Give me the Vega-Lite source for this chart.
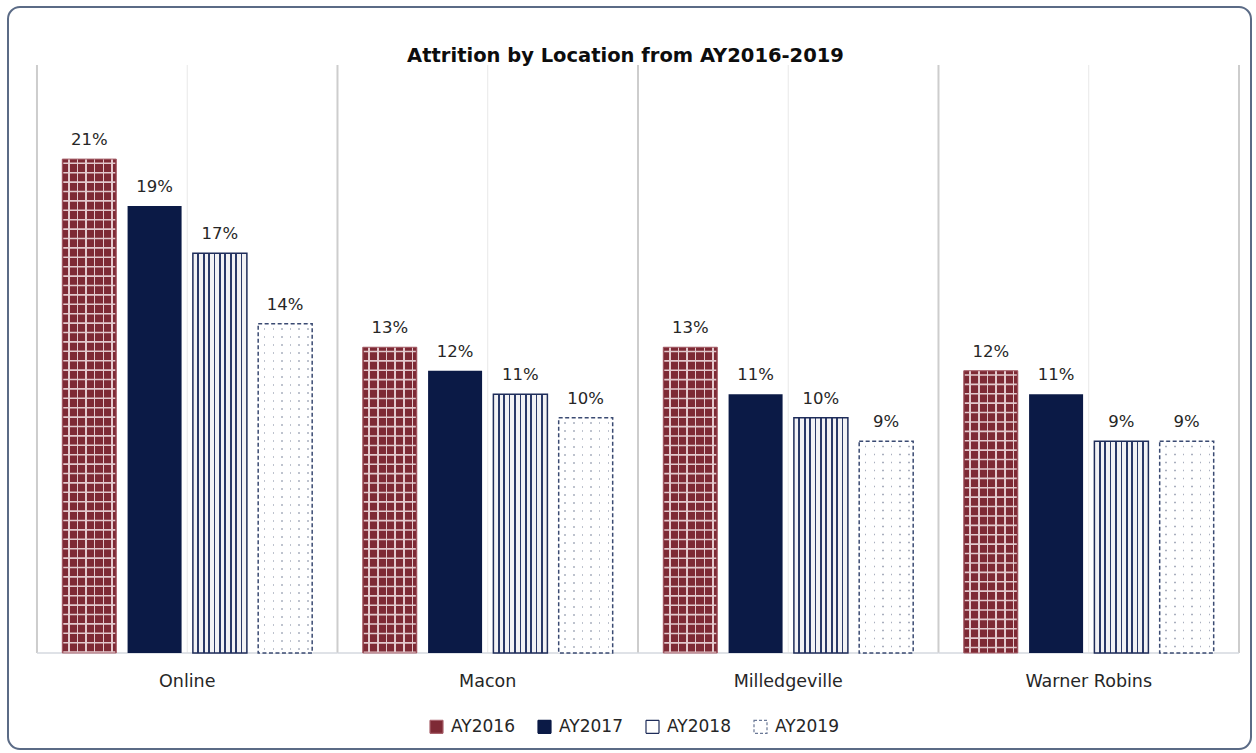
{
  "$schema": "https://vega.github.io/schema/vega-lite/v6.json",
  "width": 1243,
  "height": 742,
  "autosize": {"type": "none"},
  "padding": {"left": 8, "top": 7, "right": 5, "bottom": 4},
  "background": "white",
  "config": {
    "view": {"stroke": "#5B6B86", "strokeWidth": 2, "cornerRadius": 12, "fill": "white"},
    "font": "DejaVu Sans"
  },
  "title": {
    "text": "Attrition by Location from AY2016-2019",
    "font": "DejaVu Sans",
    "fontSize": 19.5,
    "fontWeight": "bold",
    "color": "#0D0D0D",
    "anchor": "middle",
    "baseline": "alphabetic",
    "offset": -74,
    "dx": -4
  },
  "datasets": {
    "rates": [
      {"location": "Online", "year": "AY2016", "value": 0.21},
      {"location": "Online", "year": "AY2017", "value": 0.19},
      {"location": "Online", "year": "AY2018", "value": 0.17},
      {"location": "Online", "year": "AY2019", "value": 0.14},
      {"location": "Macon", "year": "AY2016", "value": 0.13},
      {"location": "Macon", "year": "AY2017", "value": 0.12},
      {"location": "Macon", "year": "AY2018", "value": 0.11},
      {"location": "Macon", "year": "AY2019", "value": 0.10},
      {"location": "Milledgeville", "year": "AY2016", "value": 0.13},
      {"location": "Milledgeville", "year": "AY2017", "value": 0.11},
      {"location": "Milledgeville", "year": "AY2018", "value": 0.10},
      {"location": "Milledgeville", "year": "AY2019", "value": 0.09},
      {"location": "Warner Robins", "year": "AY2016", "value": 0.12},
      {"location": "Warner Robins", "year": "AY2017", "value": 0.11},
      {"location": "Warner Robins", "year": "AY2018", "value": 0.09},
      {"location": "Warner Robins", "year": "AY2019", "value": 0.09}
    ],
    "locs": [
      {"location": "Online"},
      {"location": "Macon"},
      {"location": "Milledgeville"},
      {"location": "Warner Robins"}
    ]
  },
  "data": {"name": "rates"},
  "encoding": {
    "x": {
      "field": "location",
      "type": "nominal",
      "sort": ["Online", "Macon", "Milledgeville", "Warner Robins"],
      "scale": {"domain": ["Online", "Macon", "Milledgeville", "Warner Robins"], "paddingInner": 0, "paddingOuter": 0.0682, "align": 0.707},
      "axis": {
        "orient": "bottom",
        "offset": -96,
        "domain": false,
        "ticks": false,
        "tickSize": 0,
        "grid": false,
        "title": null,
        "labelAngle": 0,
        "labelPadding": 19,
        "labelFont": "DejaVu Sans",
        "labelFontSize": 17.5,
        "labelColor": "#262626"
      }
    }
  },
  "layer": [
    {
      "data": {"name": "locs"},
      "mark": {"type": "rule", "color": "#CDCDCD", "strokeWidth": 2},
      "encoding": {
        "x": {"field": "location", "type": "nominal", "bandPosition": 0},
        "y": {"datum": 0, "type": "quantitative", "scale": {"domain": [-0.04082, 0.27466], "nice": false, "zero": false}, "axis": null},
        "y2": {"datum": 0.25}
      }
    },
    {
      "data": {"name": "locs"},
      "transform": [{"filter": "datum.location === 'Warner Robins'"}],
      "mark": {"type": "rule", "color": "#CDCDCD", "strokeWidth": 2},
      "encoding": {
        "x": {"field": "location", "type": "nominal", "bandPosition": 1},
        "y": {"datum": 0, "type": "quantitative", "scale": {"domain": [-0.04082, 0.27466], "nice": false, "zero": false}, "axis": null},
        "y2": {"datum": 0.25}
      }
    },
    {
      "data": {"name": "locs"},
      "mark": {"type": "rule", "color": "#E8E8E8", "strokeWidth": 1},
      "encoding": {
        "x": {"field": "location", "type": "nominal", "bandPosition": 0.5},
        "y": {"datum": 0, "type": "quantitative", "scale": {"domain": [-0.04082, 0.27466], "nice": false, "zero": false}, "axis": null},
        "y2": {"datum": 0.25}
      }
    },
    {
      "data": {"name": "locs"},
      "mark": {"type": "bar", "fillOpacity": 0, "stroke": "#D5D9E0", "strokeWidth": 1.5},
      "encoding": {
        "y": {"datum": 0, "type": "quantitative", "scale": {"domain": [-0.04082, 0.27466], "nice": false, "zero": false}, "axis": null},
        "y2": {"datum": 0}
      }
    },
    {
      "mark": {"type": "bar"},
      "encoding": {
        "xOffset": {"field": "year", "type": "nominal", "scale": {"domain": ["AY2016", "AY2017", "AY2018", "AY2019"], "paddingInner": 0.173, "paddingOuter": 0.3875}},
        "y": {"field": "value", "type": "quantitative", "scale": {"domain": [-0.04082, 0.27466], "nice": false, "zero": false}, "axis": null},
        "y2": {"datum": 0},
        "color": {
          "field": "year",
          "type": "nominal",
          "scale": {"domain": ["AY2016", "AY2017", "AY2018", "AY2019"], "range": ["#7E2A35", "#0B1A46", "#FFFFFF", "#FFFFFF"]},
          "legend": {
            "orient": "none",
            "legendX": 420,
            "legendY": 711,
            "direction": "horizontal",
            "title": null,
            "symbolType": "square",
            "symbolSize": 169,
            "symbolStrokeWidth": 1.2,
            "labelFont": "DejaVu Sans",
            "labelFontSize": 17,
            "labelColor": "#262626",
            "labelOffset": 6,
            "columnPadding": 20,
            "encode": {
              "symbols": {
                "update": {
                  "stroke": [
                    {"test": "datum.value === 'AY2016'", "value": "#A8626C"},
                    {"test": "datum.value === 'AY2017'", "value": "#0B1A46"},
                    {"test": "datum.value === 'AY2018'", "value": "#1F2D5A"},
                    {"value": "#6A7896"}
                  ],
                  "strokeDash": [
                    {"test": "datum.value === 'AY2019'", "value": [3, 2]},
                    {"value": [1, 0]}
                  ],
                  "opacity": {"value": 1}
                }
              }
            }
          }
        }
      }
    },
    {
      "transform": [{"filter": "datum.year === 'AY2016'"}],
      "mark": {
        "type": "bar",
        "fill": {"gradient": "linear", "x1": 0, "y1": 0, "x2": 1, "y2": 0, "stops": [
          {"offset": 0, "color": "#7E2A35"},
          {"offset": 0.105, "color": "#7E2A35"}, {"offset": 0.105, "color": "#E3C9CD"}, {"offset": 0.135, "color": "#E3C9CD"}, {"offset": 0.135, "color": "#7E2A35"},
          {"offset": 0.265, "color": "#7E2A35"}, {"offset": 0.265, "color": "#E3C9CD"}, {"offset": 0.295, "color": "#E3C9CD"}, {"offset": 0.295, "color": "#7E2A35"},
          {"offset": 0.425, "color": "#7E2A35"}, {"offset": 0.425, "color": "#E3C9CD"}, {"offset": 0.455, "color": "#E3C9CD"}, {"offset": 0.455, "color": "#7E2A35"},
          {"offset": 0.585, "color": "#7E2A35"}, {"offset": 0.585, "color": "#E3C9CD"}, {"offset": 0.615, "color": "#E3C9CD"}, {"offset": 0.615, "color": "#7E2A35"},
          {"offset": 0.745, "color": "#7E2A35"}, {"offset": 0.745, "color": "#E3C9CD"}, {"offset": 0.775, "color": "#E3C9CD"}, {"offset": 0.775, "color": "#7E2A35"},
          {"offset": 0.905, "color": "#7E2A35"}, {"offset": 0.905, "color": "#E3C9CD"}, {"offset": 0.935, "color": "#E3C9CD"}, {"offset": 0.935, "color": "#7E2A35"},
          {"offset": 1, "color": "#7E2A35"}
        ]}
      },
      "encoding": {
        "xOffset": {"field": "year", "type": "nominal", "scale": {"domain": ["AY2016", "AY2017", "AY2018", "AY2019"], "paddingInner": 0.173, "paddingOuter": 0.3875}},
        "y": {"field": "value", "type": "quantitative", "scale": {"domain": [-0.04082, 0.27466], "nice": false, "zero": false}, "axis": null},
        "y2": {"datum": 0}
      }
    },
    {
      "transform": [{"filter": "datum.year === 'AY2016'"}],
      "mark": {"type": "rule", "color": "#E3C9CD", "strokeWidth": 52, "strokeDash": [1.6, 7.8], "strokeDashOffset": 6},
      "encoding": {
        "xOffset": {"field": "year", "type": "nominal", "scale": {"domain": ["AY2016", "AY2017", "AY2018", "AY2019"], "paddingInner": 0.173, "paddingOuter": 0.3875}},
        "y": {"field": "value", "type": "quantitative", "scale": {"domain": [-0.04082, 0.27466], "nice": false, "zero": false}, "axis": null},
        "y2": {"datum": 0}
      }
    },
    {
      "transform": [{"filter": "datum.year === 'AY2018'"}],
      "mark": {
        "type": "bar",
        "fill": {"gradient": "linear", "x1": 0, "y1": 0, "x2": 1, "y2": 0, "stops": [
          {"offset": 0, "color": "#F2F2F4"},
          {"offset": 0.084, "color": "#F2F2F4"}, {"offset": 0.084, "color": "#2A3968"}, {"offset": 0.116, "color": "#2A3968"}, {"offset": 0.116, "color": "#F2F2F4"},
          {"offset": 0.184, "color": "#F2F2F4"}, {"offset": 0.184, "color": "#2A3968"}, {"offset": 0.216, "color": "#2A3968"}, {"offset": 0.216, "color": "#F2F2F4"},
          {"offset": 0.284, "color": "#F2F2F4"}, {"offset": 0.284, "color": "#2A3968"}, {"offset": 0.316, "color": "#2A3968"}, {"offset": 0.316, "color": "#F2F2F4"},
          {"offset": 0.384, "color": "#F2F2F4"}, {"offset": 0.384, "color": "#2A3968"}, {"offset": 0.416, "color": "#2A3968"}, {"offset": 0.416, "color": "#F2F2F4"},
          {"offset": 0.484, "color": "#F2F2F4"}, {"offset": 0.484, "color": "#2A3968"}, {"offset": 0.516, "color": "#2A3968"}, {"offset": 0.516, "color": "#F2F2F4"},
          {"offset": 0.584, "color": "#F2F2F4"}, {"offset": 0.584, "color": "#2A3968"}, {"offset": 0.616, "color": "#2A3968"}, {"offset": 0.616, "color": "#F2F2F4"},
          {"offset": 0.684, "color": "#F2F2F4"}, {"offset": 0.684, "color": "#2A3968"}, {"offset": 0.716, "color": "#2A3968"}, {"offset": 0.716, "color": "#F2F2F4"},
          {"offset": 0.784, "color": "#F2F2F4"}, {"offset": 0.784, "color": "#2A3968"}, {"offset": 0.816, "color": "#2A3968"}, {"offset": 0.816, "color": "#F2F2F4"},
          {"offset": 0.884, "color": "#F2F2F4"}, {"offset": 0.884, "color": "#2A3968"}, {"offset": 0.916, "color": "#2A3968"}, {"offset": 0.916, "color": "#F2F2F4"},
          {"offset": 1, "color": "#F2F2F4"}
        ]}
      },
      "encoding": {
        "xOffset": {"field": "year", "type": "nominal", "scale": {"domain": ["AY2016", "AY2017", "AY2018", "AY2019"], "paddingInner": 0.173, "paddingOuter": 0.3875}},
        "y": {"field": "value", "type": "quantitative", "scale": {"domain": [-0.04082, 0.27466], "nice": false, "zero": false}, "axis": null},
        "y2": {"datum": 0}
      }
    },
    {
      "transform": [{"filter": "datum.year === 'AY2019'"}],
      "mark": {
        "type": "bar",
        "fill": {"gradient": "linear", "x1": 0, "y1": 0, "x2": 1, "y2": 0, "stops": [
          {"offset": 0, "color": "#FFFFFF"},
          {"offset": 0.106, "color": "#FFFFFF"}, {"offset": 0.106, "color": "#A9AFBE"}, {"offset": 0.134, "color": "#A9AFBE"}, {"offset": 0.134, "color": "#FFFFFF"},
          {"offset": 0.266, "color": "#FFFFFF"}, {"offset": 0.266, "color": "#A9AFBE"}, {"offset": 0.294, "color": "#A9AFBE"}, {"offset": 0.294, "color": "#FFFFFF"},
          {"offset": 0.426, "color": "#FFFFFF"}, {"offset": 0.426, "color": "#A9AFBE"}, {"offset": 0.454, "color": "#A9AFBE"}, {"offset": 0.454, "color": "#FFFFFF"},
          {"offset": 0.586, "color": "#FFFFFF"}, {"offset": 0.586, "color": "#A9AFBE"}, {"offset": 0.614, "color": "#A9AFBE"}, {"offset": 0.614, "color": "#FFFFFF"},
          {"offset": 0.746, "color": "#FFFFFF"}, {"offset": 0.746, "color": "#A9AFBE"}, {"offset": 0.774, "color": "#A9AFBE"}, {"offset": 0.774, "color": "#FFFFFF"},
          {"offset": 0.906, "color": "#FFFFFF"}, {"offset": 0.906, "color": "#A9AFBE"}, {"offset": 0.934, "color": "#A9AFBE"}, {"offset": 0.934, "color": "#FFFFFF"},
          {"offset": 1, "color": "#FFFFFF"}
        ]}
      },
      "encoding": {
        "xOffset": {"field": "year", "type": "nominal", "scale": {"domain": ["AY2016", "AY2017", "AY2018", "AY2019"], "paddingInner": 0.173, "paddingOuter": 0.3875}},
        "y": {"field": "value", "type": "quantitative", "scale": {"domain": [-0.04082, 0.27466], "nice": false, "zero": false}, "axis": null},
        "y2": {"datum": 0}
      }
    },
    {
      "transform": [{"filter": "datum.year === 'AY2019'"}],
      "mark": {"type": "rule", "color": "#FFFFFF", "strokeWidth": 54, "strokeDash": [6.5, 1.5], "strokeDashOffset": 2},
      "encoding": {
        "xOffset": {"field": "year", "type": "nominal", "scale": {"domain": ["AY2016", "AY2017", "AY2018", "AY2019"], "paddingInner": 0.173, "paddingOuter": 0.3875}},
        "y": {"field": "value", "type": "quantitative", "scale": {"domain": [-0.04082, 0.27466], "nice": false, "zero": false}, "axis": null},
        "y2": {"datum": 0}
      }
    },
    {
      "transform": [{"filter": "datum.year === 'AY2016'"}],
      "mark": {"type": "bar", "fillOpacity": 0, "stroke": "#A8626C", "strokeWidth": 1},
      "encoding": {
        "xOffset": {"field": "year", "type": "nominal", "scale": {"domain": ["AY2016", "AY2017", "AY2018", "AY2019"], "paddingInner": 0.173, "paddingOuter": 0.3875}},
        "y": {"field": "value", "type": "quantitative", "scale": {"domain": [-0.04082, 0.27466], "nice": false, "zero": false}, "axis": null},
        "y2": {"datum": 0}
      }
    },
    {
      "transform": [{"filter": "datum.year === 'AY2018'"}],
      "mark": {"type": "bar", "fillOpacity": 0, "stroke": "#1F2D5A", "strokeWidth": 1.5},
      "encoding": {
        "xOffset": {"field": "year", "type": "nominal", "scale": {"domain": ["AY2016", "AY2017", "AY2018", "AY2019"], "paddingInner": 0.173, "paddingOuter": 0.3875}},
        "y": {"field": "value", "type": "quantitative", "scale": {"domain": [-0.04082, 0.27466], "nice": false, "zero": false}, "axis": null},
        "y2": {"datum": 0}
      }
    },
    {
      "transform": [{"filter": "datum.year === 'AY2019'"}],
      "mark": {"type": "bar", "fillOpacity": 0, "stroke": "#3A4A72", "strokeWidth": 1.5, "strokeDash": [4, 2.5]},
      "encoding": {
        "xOffset": {"field": "year", "type": "nominal", "scale": {"domain": ["AY2016", "AY2017", "AY2018", "AY2019"], "paddingInner": 0.173, "paddingOuter": 0.3875}},
        "y": {"field": "value", "type": "quantitative", "scale": {"domain": [-0.04082, 0.27466], "nice": false, "zero": false}, "axis": null},
        "y2": {"datum": 0}
      }
    },
    {
      "mark": {"type": "text", "baseline": "alphabetic", "align": "center", "dy": -14, "font": "DejaVu Sans", "fontSize": 16.5, "color": "#262626"},
      "encoding": {
        "xOffset": {"field": "year", "type": "nominal", "scale": {"domain": ["AY2016", "AY2017", "AY2018", "AY2019"], "paddingInner": 0.173, "paddingOuter": 0.3875}},
        "y": {"field": "value", "type": "quantitative", "scale": {"domain": [-0.04082, 0.27466], "nice": false, "zero": false}, "axis": null},
        "text": {"field": "value", "type": "quantitative", "format": ".0%"}
      }
    }
  ]
}
